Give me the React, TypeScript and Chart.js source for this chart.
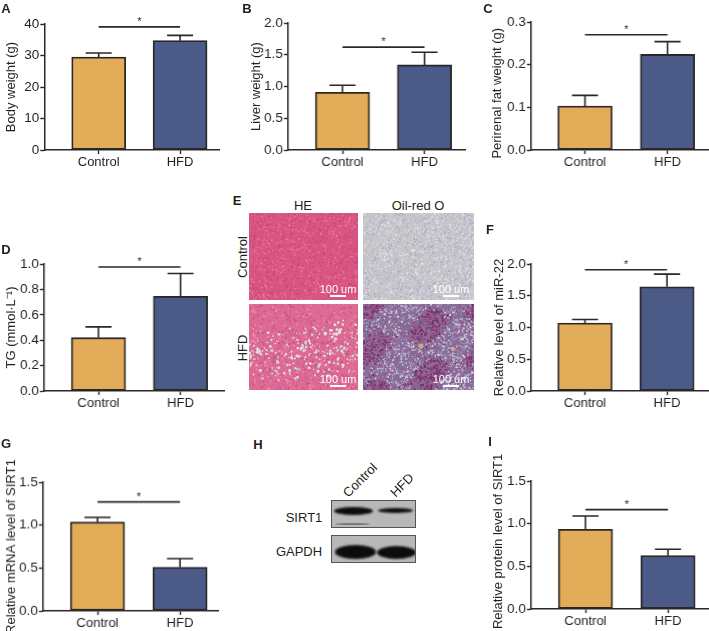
import React, { useEffect, useRef } from "react";
import { Chart, registerables } from "chart.js";

Chart.register(...registerables);

const categories = ["Control", "HFD"];

const bodyWeight = [29.5, 34.7];
const bodyWeightErr = [30.8, 36.4];
const bodyWeightTicks = ["0", "10", "20", "30", "40"];
const liverWeight = [0.91, 1.34];
const liverWeightErr = [1.02, 1.54];
const liverWeightTicks = ["0.0", "0.5", "1.0", "1.5", "2.0"];
const fatWeight = [0.103, 0.224];
const fatWeightErr = [0.128, 0.254];
const fatWeightTicks = ["0.0", "0.1", "0.2", "0.3"];
const tg = [0.42, 0.745];
const tgErr = [0.505, 0.925];
const tgTicks = ["0.0", "0.2", "0.4", "0.6", "0.8", "1.0"];
const mir22 = [1.07, 1.64];
const mir22Err = [1.125, 1.84];
const mir22Ticks = ["0.0", "0.5", "1.0", "1.5", "2.0"];
const mrna = [1.035, 0.51];
const mrnaErr = [1.09, 0.61];
const mrnaTicks = ["0.0", "0.5", "1.0", "1.5"];
const protein = [0.935, 0.625];
const proteinErr = [1.09, 0.7];
const proteinTicks = ["0.0", "0.5", "1.0", "1.5"];

const INK = "#2b2627";
const TEXT = "#231f20";
const FONT = '"Liberation Sans", Arial, sans-serif';
const ORANGE = "#E3AC59";
const NAVY = "#4B5A87";

type PanelCfg = {
  title: string; values: number[]; tops: number[]; ticks: string[]; sig: number;
  titleX: number; axisX: number; right: number; top: number; y0: number; c1: number; c2: number;
};

const panels: PanelCfg[] = [
  { title: "Body weight (g)", values: bodyWeight, tops: bodyWeightErr, ticks: bodyWeightTicks, sig: 39.1, titleX: 12, axisX: 44.5, right: 219.5, top: 24, y0: 150, c1: 99, c2: 180.5 },
  { title: "Liver weight (g)", values: liverWeight, tops: liverWeightErr, ticks: liverWeightTicks, sig: 1.62, titleX: 257, axisX: 288, right: 465, top: 23, y0: 150, c1: 342.5, c2: 424.5 },
  { title: "Perirenal fat weight (g)    ", values: fatWeight, tops: fatWeightErr, ticks: fatWeightTicks, sig: 0.27, titleX: 498, axisX: 531, right: 709, top: 22, y0: 150, c1: 585, c2: 667.5 },
  { title: "TG (mmol·L⁻¹)", values: tg, tops: tgErr, ticks: tgTicks, sig: 0.976, titleX: 12, axisX: 44, right: 224, top: 264, y0: 391, c1: 98.5, c2: 180.5 },
  { title: "Relative level of miR-22", values: mir22, tops: mir22Err, ticks: mir22Ticks, sig: 1.91, titleX: 500, axisX: 531, right: 708, top: 263.5, y0: 391, c1: 585, c2: 667 },
  { title: "Relative mRNA level of SIRT1", values: mrna, tops: mrnaErr, ticks: mrnaTicks, sig: 1.27, titleX: 12, axisX: 43, right: 218, top: 482, y0: 610.5, c1: 97.5, c2: 180 },
  { title: "  Relative protein level of SIRT1", values: protein, tops: proteinErr, ticks: proteinTicks, sig: 1.164, titleX: 499, axisX: 531, right: 709, top: 481, y0: 609, c1: 585.5, c2: 668 },
];

const PAD_TOP = 34;
const X_AXIS_H = 21;

function BarPanel({ p }: { p: PanelCfg }) {
  const ref = useRef<HTMLCanvasElement>(null);
  const left = p.titleX - 7.8;
  const width = p.right - left + 1;
  const height = p.y0 - p.top + PAD_TOP + X_AXIS_H;
  useEffect(() => {
    const nums = p.ticks.map(Number);
    const span = p.c2 - p.c1;
    const overlay = {
      id: "overlay",
      afterDatasetsDraw(chart: any) {
        const { ctx, scales } = chart;
        const { x, y } = scales;
        ctx.save();
        ctx.strokeStyle = INK;
        ctx.lineWidth = 1.6;
        p.values.forEach((v, i) => {
          const px = x.getPixelForValue(i);
          const a = y.getPixelForValue(v);
          const b = y.getPixelForValue(p.tops[i]);
          ctx.beginPath();
          ctx.moveTo(px, a);
          ctx.lineTo(px, b);
          ctx.moveTo(px - 13, b);
          ctx.lineTo(px + 13, b);
          ctx.stroke();
        });
        const sy = y.getPixelForValue(p.sig);
        const x0 = x.getPixelForValue(0);
        const x1 = x.getPixelForValue(1);
        ctx.beginPath();
        ctx.moveTo(x0, sy);
        ctx.lineTo(x1, sy);
        ctx.stroke();
        ctx.fillStyle = TEXT;
        ctx.font = `11px ${FONT}`;
        ctx.textAlign = "center";
        ctx.textBaseline = "middle";
        ctx.fillText("*", (x0 + x1) / 2, sy - 5);
        ctx.restore();
      },
    };
    const chart = new Chart(ref.current as HTMLCanvasElement, {
      type: "bar",
      data: {
        datasets: [
          {
            data: p.values.map((y, x) => ({ x, y })),
            backgroundColor: [ORANGE, NAVY],
            borderColor: INK,
            borderWidth: 1.8,
            borderSkipped: false,
            barThickness: 54,
          },
        ],
      },
      options: {
        responsive: false,
        animation: false,
        layout: { autoPadding: false, padding: { top: PAD_TOP, left: 0, right: 1, bottom: 0 } },
        plugins: { legend: { display: false }, tooltip: { enabled: false } },
        scales: {
          x: {
            type: "linear",
            offset: false,
            min: -(p.c1 - p.axisX) / span,
            max: 1 + (p.right - p.c2) / span,
            afterBuildTicks: (s: any) => { s.ticks = categories.map((_, value) => ({ value })); },
            afterFit: (s: any) => { s.height = X_AXIS_H; },
            grid: { offset: false, drawOnChartArea: false, drawTicks: true, tickLength: 4, tickColor: INK, tickWidth: 1.4 },
            border: { display: true, color: INK, width: 1.5 },
            ticks: {
              autoSkip: false, maxRotation: 0, padding: 1, color: TEXT, font: { family: FONT, size: 13 },
              callback: (v: any) => categories[v],
            },
          },
          y: {
            min: nums[0],
            max: nums[nums.length - 1],
            afterBuildTicks: (s: any) => { s.ticks = nums.map((value) => ({ value })); },
            afterFit: (s: any) => { s.width = p.axisX - left; },
            grid: { drawOnChartArea: false, drawTicks: true, tickLength: 4, tickColor: INK, tickWidth: 1.4 },
            border: { display: true, color: INK, width: 1.5 },
            ticks: {
              autoSkip: false, padding: 1, color: TEXT, font: { family: FONT, size: 13.5 },
              callback: (v: any) => p.ticks[nums.indexOf(v)],
            },
            title: { display: true, text: p.title, color: TEXT, padding: 0, font: { family: FONT, size: 13, lineHeight: 1.2 } },
          },
        },
      } as any,
      plugins: [overlay],
    });
    return () => chart.destroy();
  }, [p]);
  return (
    <canvas
      ref={ref}
      width={width}
      height={height}
      style={{ position: "absolute", left, top: p.top - PAD_TOP, width, height }}
    />
  );
}

// Decorative micrograph texture only: no chart value depends on it.
function hash(seed: number) {
  let s = seed >>> 0;
  return () => {
    s = (s * 1664525 + 1013904223) >>> 0;
    return s / 4294967296;
  };
}

type Kind = "heCtl" | "oilCtl" | "heHfd" | "oilHfd";
const baseColor: Record<Kind, string> = { heCtl: "#DA5482", oilCtl: "#C6C5CB", heHfd: "#DE6A93", oilHfd: "#8F6A96" };

function paintTissue(c: HTMLCanvasElement, kind: Kind) {
  const ctx = c.getContext("2d") as CanvasRenderingContext2D;
  const W = c.width;
  const H = c.height;
  const rnd = hash(W * 31 + kind.length * 7 + kind.charCodeAt(0) + kind.charCodeAt(3));
  ctx.fillStyle = baseColor[kind];
  ctx.fillRect(0, 0, W, H);
  ctx.filter = "blur(0.7px)";
  const dot = (x: number, y: number, r: number, col: string) => {
    ctx.fillStyle = col;
    ctx.beginPath();
    ctx.arc(x, y, r, 0, Math.PI * 2);
    ctx.fill();
  };
  const pick = (arr: string[]) => arr[Math.floor(rnd() * arr.length)];
  if (kind === "heCtl") {
    for (let i = 0; i < 1500; i++) dot(rnd() * W, rnd() * H, 0.4 + rnd() * 0.6, pick(["#E97FA0", "#E47399", "#CC4477", "#B84A85", "#DE5C88"]));
  } else if (kind === "oilCtl") {
    for (let i = 0; i < 2600; i++) dot(rnd() * W, rnd() * H, 0.4 + rnd() * 0.6, pick(["#DEDDDC", "#E6E4E2", "#B0B7CF", "#A0ABCB", "#C4BEBA", "#D2D0D0"]));
    for (let i = 0; i < 14; i++) dot(30 + rnd() * 70, 25 + rnd() * 30, 0.6 + rnd() * 0.6, "#C9A98C");
  } else if (kind === "heHfd") {
    for (let i = 0; i < 1200; i++) dot(rnd() * W, rnd() * H, 0.4 + rnd() * 0.7, pick(["#EE8AAE", "#C45488", "#E56A96", "#B05C98"]));
    for (let i = 0; i < 650; i++) {
      const x = rnd() * W;
      const y = rnd() * H;
      const band = Math.abs(y / H - (0.62 - 0.1 * (x / W)));
      if (band < 0.3 && rnd() > band * 2.4) dot(x, y, 0.5 + rnd() * 0.9, pick(["#D3DCD2", "#E2E6DE", "#C7D4CB", "#E9E2E0"]));
    }
    for (let i = 0; i < 8; i++) dot(70 + rnd() * 36, 8 + rnd() * 22, 1 + rnd() * 0.9, "#D9E3DB");
  } else {
    for (let i = 0; i < 3200; i++) {
      const x = rnd() * W;
      const y = rnd() * H;
      const patch = Math.sin(x * 0.11 + 0.6) + Math.cos(y * 0.13 + x * 0.05) + (rnd() - 0.5);
      const col = patch > 0.35
        ? pick(["#7C2C68", "#8E3A72", "#6A2F66", "#A04C80", "#74407E"])
        : pick(["#BDB9C8", "#9AA0C4", "#7576A8", "#D6D2D8", "#8A5A90"]);
      dot(x, y, 0.4 + rnd() * 0.7, col);
    }
    dot(58, 42, 2.6, "#C9A98C");
    dot(90, 45, 2.2, "#C9A98C");
  }
  ctx.filter = "none";
}

const tissues: { kind: Kind; x: number; y: number; w: number; h: number }[] = [
  { kind: "heCtl", x: 249, y: 213, w: 109, h: 87 },
  { kind: "oilCtl", x: 363, y: 213, w: 111, h: 87 },
  { kind: "heHfd", x: 249, y: 304, w: 109, h: 86 },
  { kind: "oilHfd", x: 363, y: 304, w: 111, h: 86 },
];

function Tissue({ t }: { t: (typeof tissues)[number] }) {
  const ref = useRef<HTMLCanvasElement>(null);
  useEffect(() => { paintTissue(ref.current as HTMLCanvasElement, t.kind); }, [t]);
  const bar = t.x + t.w - (t.kind.startsWith("he") ? 28 : 31);
  return (
    <>
      <canvas ref={ref} width={t.w} height={t.h} style={{ position: "absolute", left: t.x, top: t.y }} />
      <Label x={bar + 8} y={t.y + t.h - 11} size={11} color="#fff">100 um</Label>
      <div style={{ position: "absolute", left: bar, top: t.y + t.h - 5, width: 16, height: 2, background: "#fff" }} />
    </>
  );
}

function Label({ x, y, size = 13, bold, color = TEXT, rotate = 0, children }: any) {
  return (
    <div
      style={{
        position: "absolute", left: x, top: y, whiteSpace: "nowrap", fontFamily: FONT, fontSize: size,
        fontWeight: bold ? 700 : 400, color, lineHeight: 1,
        transform: `translate(-50%,-50%) rotate(${rotate}deg)`,
      }}
    >
      {children}
    </div>
  );
}

const panelLetters: [string, number, number][] = [
  ["A", 6, 8], ["B", 247, 8], ["C", 488, 8], ["D", 6, 249], ["E", 237, 200],
  ["F", 490, 229], ["G", 6, 443], ["H", 258, 444], ["I", 490, 441],
];

function Band({ x, y, w, h, color = "#0c0c0c", blur = 1 }: any) {
  return (
    <div
      style={{
        position: "absolute", left: x, top: y, width: w, height: h, background: color,
        borderRadius: "50%/50%", filter: `blur(${blur}px)`,
      }}
    />
  );
}

function Blot({ y, h, children }: any) {
  return (
    <div
      style={{
        position: "absolute", left: 331, top: y, width: 85, height: h, background: "#b8b8b8",
        border: "1px solid #555", boxSizing: "border-box", overflow: "hidden",
      }}
    >
      {children}
    </div>
  );
}

export default function App() {
  return (
    <div style={{ position: "absolute", left: 0, top: 0, width: 709, height: 631, overflow: "hidden", background: "#fff" }}>
      {panels.map((p) => <BarPanel key={p.title} p={p} />)}
      {panelLetters.map(([s, x, y]) => <Label key={s} x={x} y={y} size={13} bold>{s}</Label>)}

      <Label x={303} y={205}>HE</Label>
      <Label x={418} y={205}>Oil-red O</Label>
      <Label x={242} y={257} rotate={-90}>Control</Label>
      <Label x={242} y={348} rotate={-90}>HFD</Label>
      {tissues.map((t) => <Tissue key={t.kind} t={t} />)}

      <Label x={360} y={480} rotate={-45}>Control</Label>
      <Label x={402} y={485} rotate={-45}>HFD</Label>
      <Label x={304} y={517}>SIRT1</Label>
      <Label x={299} y={551}>GAPDH</Label>
      <Blot y={500} h={28}>
        <Band x={2} y={6} w={39} h={8} />
        <Band x={46} y={7} w={35} h={5} />
        <Band x={3} y={22} w={35} h={2} color="#777" blur={0.7} />
      </Blot>
      <Blot y={535} h={28}>
        <Band x={3} y={9} w={41} h={14} />
        <Band x={45} y={10} w={39} h={13} />
      </Blot>
    </div>
  );
}
